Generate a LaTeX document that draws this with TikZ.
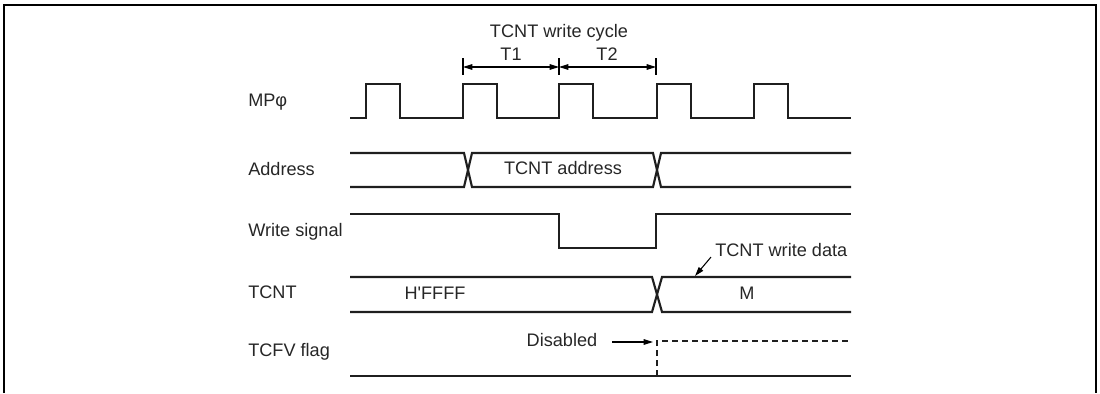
\documentclass[tikz,border=0pt]{standalone}
\usepackage{fontspec}
\setmainfont{Liberation Sans}
\usetikzlibrary{arrows.meta}
\tikzset{
  sigline/.style  = {line width=1.6pt,draw=black!88,line join=miter},
  dimarr/.style   = {{Triangle[length=7pt,width=4.2pt]}-{Triangle[length=7pt,width=4.2pt]},line width=0.8pt},
  ptrarr/.style   = {-{Triangle[length=7pt,width=4.2pt]},line width=0.8pt},
  siglabel/.style = {font=\fontsize{13.6}{16}\selectfont,inner sep=0pt,text height=0.72em,text depth=0pt,text=black!85}
}

\begin{document}
\begin{tikzpicture}[x=0.75pt,y=-0.75pt]
  \useasboundingbox (0,0) rectangle (1100,393);
  \draw[line width=2pt] (4,393) -- (4,5) -- (1096,5) -- (1096,393);

  \node[siglabel,anchor=west] (lclk)  at (248,102) {MPφ};
  \node[siglabel,anchor=west] (ladr)  at (248,171) {Address};
  \node[siglabel,anchor=west] (lwr)   at (248,232) {Write signal};
  \node[siglabel,anchor=west] (lcnt)  at (248,294) {TCNT};
  \node[siglabel,anchor=west] (lflag) at (248,352) {TCFV flag};

  \node[siglabel] (cycle) at (559,33) {TCNT write cycle};
  \node[siglabel] (tone)  at (511,56) {T1};
  \node[siglabel] (ttwo)  at (607,56) {T2};
  \coordinate (t0) at (463,67);
  \coordinate (t1) at (559,67);
  \coordinate (t2) at (656,67);
  \foreach \t in {463,559,656} { \draw[line width=0.8pt] (\t,58) -- (\t,75); }
  \draw[dimarr] (t0) -- (t1);
  \draw[dimarr] (t1) -- (t2);

  \draw[sigline] (350,118) \foreach \r in {366,463,559,657,754} { -- (\r,118) -- (\r,84) -- (\r+34,84) -- (\r+34,118) } -- (851,118);

  \draw[sigline] (350,153) -- (464,153) -- (472,187) -- (653,187) -- (661,153) -- (851,153);
  \draw[sigline] (350,187) -- (464,187) -- (472,153) -- (653,153) -- (661,187) -- (851,187);
  \node[siglabel] (adr) at (563,170) {TCNT address};

  \draw[sigline] (350,214) -- (559,214) -- (559,248) -- (656,248) -- (656,214) -- (851,214);

  \draw[sigline] (350,277) -- (652,277) -- (662,312) -- (851,312);
  \draw[sigline] (350,312) -- (652,312) -- (662,277) -- (851,277);
  \node[siglabel] (old) at (435,295) {H\textquotesingle FFFF};
  \node[siglabel] (new) at (747,295) {M};
  \node[siglabel,anchor=west] (wdata) at (715,252) {TCNT write data};
  \coordinate (wtip) at (695,276);
  \draw[ptrarr] ([xshift=-3pt]wdata.south west) -- (wtip);

  \draw[sigline] (350,376) -- (851,376);
  \draw[sigline,dash pattern=on 4.5pt off 3pt] (657,376) -- (657,341) -- (851,341);
  \node[siglabel] (dis) at (562,342) {Disabled};
  \coordinate (dtip) at (653,342);
  \draw[ptrarr] ([xshift=11pt]dis.east) -- (dtip);
\end{tikzpicture}
\end{document}
